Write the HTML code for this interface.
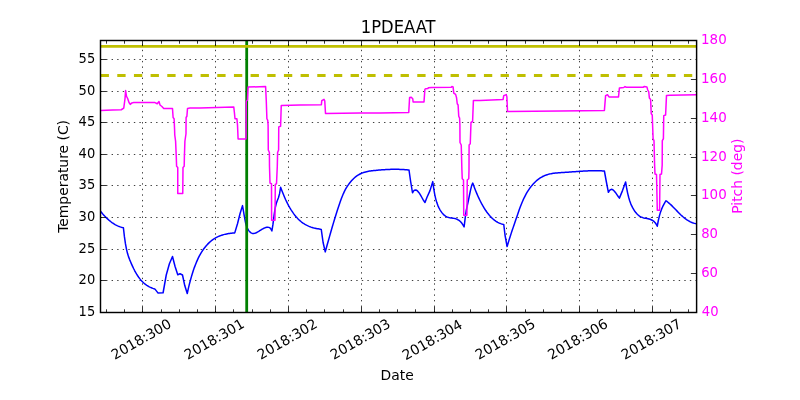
<!DOCTYPE html>
<html lang="en"><head><meta charset="utf-8"><title>1PDEAAT</title>
<style>html,body{margin:0;padding:0;background:#fff;}body{width:800px;height:400px;overflow:hidden;}svg{display:block;will-change:transform;}text{font-family:"DejaVu Sans", "Liberation Sans", sans-serif;}</style></head><body>
<svg width="800" height="400" viewBox="0 0 800 400">
<rect x="0" y="0" width="800" height="400" fill="#fff"/>
<g stroke="#000" stroke-width="0.75" stroke-dasharray="1.39 4.17" fill="none">
<line x1="142.50" y1="312.50" x2="142.50" y2="40.50"/>
<line x1="215.50" y1="312.50" x2="215.50" y2="40.50"/>
<line x1="288.50" y1="312.50" x2="288.50" y2="40.50"/>
<line x1="361.50" y1="312.50" x2="361.50" y2="40.50"/>
<line x1="434.50" y1="312.50" x2="434.50" y2="40.50"/>
<line x1="506.50" y1="312.50" x2="506.50" y2="40.50"/>
<line x1="579.50" y1="312.50" x2="579.50" y2="40.50"/>
<line x1="652.50" y1="312.50" x2="652.50" y2="40.50"/>
<line x1="100.50" y1="280.50" x2="696.50" y2="280.50"/>
<line x1="100.50" y1="249.50" x2="696.50" y2="249.50"/>
<line x1="100.50" y1="217.50" x2="696.50" y2="217.50"/>
<line x1="100.50" y1="185.50" x2="696.50" y2="185.50"/>
<line x1="100.50" y1="154.50" x2="696.50" y2="154.50"/>
<line x1="100.50" y1="122.50" x2="696.50" y2="122.50"/>
<line x1="100.50" y1="91.50" x2="696.50" y2="91.50"/>
<line x1="100.50" y1="59.50" x2="696.50" y2="59.50"/>
</g>
<path d="M100.50,211.20 L101.54,212.49 L102.58,213.73 L103.62,214.91 L104.66,216.05 L105.70,217.13 L106.75,218.16 L107.79,219.13 L108.83,220.06 L109.87,220.93 L110.91,221.75 L111.95,222.53 L112.99,223.25 L114.03,223.92 L115.07,224.54 L116.11,225.11 L117.15,225.64 L118.20,226.11 L119.24,226.54 L120.28,226.91 L121.32,227.24 L122.36,227.52 L123.40,227.75 L124.42,236.64 L125.44,243.65 L126.46,249.10 L127.48,253.32 L128.50,256.63 L129.52,259.36 L130.54,261.82 L131.55,264.16 L132.57,266.40 L133.59,268.52 L134.61,270.52 L135.63,272.39 L136.65,274.15 L137.67,275.77 L138.69,277.26 L139.71,278.63 L140.73,279.88 L141.75,281.03 L142.77,282.07 L143.79,283.01 L144.81,283.87 L145.83,284.64 L146.85,285.34 L147.86,285.98 L148.88,286.55 L149.90,287.07 L150.92,287.54 L151.94,287.97 L152.96,288.37 L153.98,288.74 L155.00,289.10 L158.10,293.10 L163.10,292.75 L166.25,275.00 L169.40,263.75 L172.50,256.50 L175.00,266.25 L177.75,274.75 L180.00,273.75 L182.50,275.00 L184.75,285.60 L187.25,293.50 L188.26,288.94 L189.27,284.69 L190.28,280.75 L191.29,277.08 L192.30,273.68 L193.31,270.53 L194.32,267.62 L195.34,264.91 L196.35,262.41 L197.36,260.09 L198.37,257.94 L199.38,255.94 L200.39,254.09 L201.40,252.37 L202.41,250.78 L203.42,249.30 L204.43,247.94 L205.44,246.67 L206.45,245.49 L207.46,244.40 L208.47,243.37 L209.48,242.42 L210.49,241.53 L211.51,240.70 L212.52,239.92 L213.53,239.21 L214.54,238.55 L215.55,237.94 L216.56,237.38 L217.57,236.87 L218.58,236.40 L219.59,235.98 L220.60,235.59 L221.61,235.24 L222.62,234.93 L223.63,234.64 L224.64,234.39 L225.65,234.16 L226.66,233.96 L227.68,233.77 L228.69,233.61 L229.70,233.47 L230.71,233.33 L231.72,233.21 L232.73,233.10 L233.74,233.00 L234.75,232.90 L237.50,223.75 L240.00,213.75 L242.50,205.60 L243.51,211.34 L244.53,217.47 L245.54,222.68 L246.56,226.28 L247.57,228.69 L248.58,230.38 L249.60,231.65 L250.61,232.55 L251.62,233.13 L252.64,233.41 L253.65,233.45 L254.67,233.28 L255.68,232.95 L256.69,232.50 L257.71,231.96 L258.72,231.36 L259.73,230.72 L260.75,230.07 L261.76,229.44 L262.78,228.83 L263.79,228.29 L264.80,227.84 L265.82,227.50 L266.83,227.29 L267.84,227.24 L268.86,227.38 L269.87,227.84 L270.89,228.94 L271.90,231.00 L272.99,224.21 L274.07,215.43 L275.16,208.20 L276.25,203.47 L277.34,200.47 L278.43,197.80 L279.51,193.91 L280.60,187.25 L281.62,189.99 L282.63,192.60 L283.65,195.09 L284.67,197.46 L285.68,199.71 L286.70,201.84 L287.71,203.86 L288.73,205.78 L289.75,207.59 L290.76,209.29 L291.78,210.90 L292.80,212.42 L293.81,213.84 L294.83,215.17 L295.84,216.42 L296.86,217.58 L297.88,218.67 L298.89,219.68 L299.91,220.62 L300.93,221.49 L301.94,222.29 L302.96,223.03 L303.97,223.71 L304.99,224.34 L306.01,224.91 L307.02,225.43 L308.04,225.91 L309.06,226.35 L310.07,226.74 L311.09,227.10 L312.10,227.42 L313.12,227.72 L314.14,227.99 L315.15,228.23 L316.17,228.46 L317.19,228.67 L318.20,228.86 L319.22,229.05 L320.23,229.23 L321.25,229.40 L323.10,242.50 L325.25,251.90 L326.26,248.22 L327.27,244.56 L328.28,240.93 L329.29,237.34 L330.30,233.78 L331.30,230.27 L332.31,226.80 L333.32,223.39 L334.33,220.03 L335.34,216.73 L336.35,213.49 L337.36,210.32 L338.37,207.22 L339.38,204.21 L340.39,201.32 L341.39,198.57 L342.40,195.98 L343.41,193.58 L344.42,191.40 L345.43,189.44 L346.44,187.67 L347.45,186.06 L348.46,184.59 L349.47,183.22 L350.48,181.96 L351.48,180.78 L352.49,179.70 L353.50,178.70 L354.51,177.78 L355.52,176.94 L356.53,176.17 L357.54,175.47 L358.55,174.84 L359.56,174.27 L360.57,173.75 L361.58,173.30 L362.58,172.89 L363.59,172.52 L364.60,172.21 L365.61,171.92 L366.62,171.68 L367.63,171.46 L368.64,171.27 L369.65,171.11 L370.66,170.96 L371.67,170.83 L372.67,170.71 L373.68,170.60 L374.69,170.49 L375.70,170.39 L376.71,170.29 L377.72,170.19 L378.73,170.10 L379.74,170.01 L380.75,169.93 L381.76,169.85 L382.77,169.78 L383.77,169.71 L384.78,169.64 L385.79,169.58 L386.80,169.53 L387.81,169.48 L388.82,169.44 L389.83,169.40 L390.84,169.37 L391.85,169.35 L392.86,169.33 L393.86,169.32 L394.87,169.31 L395.88,169.31 L396.89,169.32 L397.90,169.33 L398.91,169.36 L399.92,169.38 L400.93,169.42 L401.94,169.47 L402.95,169.52 L403.95,169.58 L404.96,169.65 L405.97,169.72 L406.98,169.81 L407.99,169.90 L409.00,170.00 L410.60,181.25 L412.50,192.75 L413.54,191.05 L414.58,190.15 L415.62,189.93 L416.67,190.30 L417.71,191.16 L418.75,192.41 L419.79,193.95 L420.83,195.68 L421.88,197.50 L422.92,199.31 L423.96,201.01 L425.00,202.50 L426.90,197.50 L430.00,190.60 L432.75,181.60 L433.76,188.84 L434.77,194.59 L435.78,199.10 L436.80,202.60 L437.81,205.35 L438.82,207.59 L439.83,209.52 L440.84,211.19 L441.85,212.63 L442.86,213.84 L443.87,214.85 L444.89,215.68 L445.90,216.35 L446.91,216.87 L447.92,217.27 L448.93,217.57 L449.94,217.78 L450.95,217.95 L451.96,218.09 L452.98,218.22 L453.99,218.38 L455.00,218.59 L456.01,218.88 L457.02,219.26 L458.03,219.77 L459.04,220.43 L460.05,221.27 L461.07,222.31 L462.08,223.58 L463.09,225.10 L464.10,226.90 L465.18,218.17 L466.26,210.43 L467.34,205.35 L468.43,200.38 L469.51,194.98 L470.59,189.85 L471.67,185.66 L472.75,183.10 L473.75,185.84 L474.75,188.48 L475.75,191.00 L476.75,193.41 L477.75,195.71 L478.75,197.91 L479.75,200.01 L480.75,202.01 L481.75,203.91 L482.75,205.71 L483.75,207.41 L484.75,209.02 L485.75,210.54 L486.75,211.97 L487.75,213.31 L488.75,214.57 L489.75,215.74 L490.75,216.83 L491.75,217.84 L492.75,218.77 L493.75,219.63 L494.75,220.41 L495.75,221.12 L496.75,221.76 L497.75,222.32 L498.75,222.83 L499.75,223.26 L500.75,223.64 L501.75,223.95 L502.75,224.20 L503.75,224.40 L505.00,235.00 L507.10,246.60 L508.10,243.17 L509.11,239.87 L510.11,236.69 L511.11,233.61 L512.12,230.59 L513.12,227.63 L514.12,224.70 L515.12,221.78 L516.13,218.86 L517.13,215.93 L518.13,212.99 L519.14,210.07 L520.14,207.28 L521.14,204.67 L522.15,202.22 L523.15,199.94 L524.15,197.80 L525.16,195.80 L526.16,193.95 L527.16,192.21 L528.16,190.60 L529.17,189.10 L530.17,187.69 L531.17,186.39 L532.18,185.17 L533.18,184.03 L534.18,182.96 L535.19,181.97 L536.19,181.04 L537.19,180.19 L538.20,179.39 L539.20,178.66 L540.20,177.98 L541.21,177.36 L542.21,176.79 L543.21,176.28 L544.21,175.81 L545.22,175.39 L546.22,175.01 L547.22,174.67 L548.23,174.36 L549.23,174.10 L550.23,173.86 L551.24,173.65 L552.24,173.47 L553.24,173.32 L554.25,173.18 L555.25,173.07 L556.25,172.97 L557.25,172.88 L558.26,172.81 L559.26,172.74 L560.26,172.68 L561.27,172.62 L562.27,172.56 L563.27,172.50 L564.28,172.44 L565.28,172.37 L566.28,172.31 L567.29,172.24 L568.29,172.17 L569.29,172.10 L570.29,172.02 L571.30,171.95 L572.30,171.87 L573.30,171.80 L574.31,171.73 L575.31,171.65 L576.31,171.58 L577.32,171.51 L578.32,171.44 L579.32,171.37 L580.33,171.30 L581.33,171.24 L582.33,171.17 L583.34,171.11 L584.34,171.06 L585.34,171.00 L586.34,170.95 L587.35,170.91 L588.35,170.86 L589.35,170.83 L590.36,170.80 L591.36,170.77 L592.36,170.75 L593.37,170.73 L594.37,170.72 L595.37,170.71 L596.38,170.72 L597.38,170.72 L598.38,170.74 L599.38,170.76 L600.39,170.79 L601.39,170.83 L602.39,170.88 L603.40,170.94 L604.40,171.00 L606.25,181.25 L608.40,192.30 L609.40,190.63 L610.40,189.68 L611.40,189.35 L612.40,189.56 L613.40,190.20 L614.40,191.20 L615.40,192.44 L616.40,193.85 L617.40,195.33 L618.40,196.77 L619.40,198.10 L622.50,190.60 L625.60,181.90 L626.62,187.98 L627.64,193.06 L628.66,197.28 L629.68,200.75 L630.70,203.60 L631.73,205.96 L632.75,207.95 L633.77,209.69 L634.79,211.23 L635.81,212.58 L636.83,213.75 L637.85,214.76 L638.87,215.61 L639.89,216.31 L640.91,216.87 L641.94,217.31 L642.96,217.66 L643.98,217.93 L645.00,218.16 L646.02,218.36 L647.04,218.55 L648.06,218.76 L649.08,219.00 L650.10,219.31 L651.12,219.71 L652.15,220.21 L653.17,220.84 L654.19,221.66 L655.21,222.76 L656.23,224.26 L657.25,226.25 L658.33,220.51 L659.41,215.87 L660.49,212.15 L661.58,209.16 L662.66,206.71 L663.74,204.62 L664.82,202.69 L665.90,200.75 L666.92,201.45 L667.94,202.23 L668.96,203.07 L669.98,203.96 L671.00,204.91 L672.02,205.89 L673.04,206.91 L674.06,207.95 L675.08,209.00 L676.10,210.07 L677.12,211.13 L678.14,212.18 L679.16,213.22 L680.18,214.23 L681.20,215.21 L682.22,216.14 L683.24,217.03 L684.26,217.87 L685.28,218.65 L686.30,219.39 L687.32,220.08 L688.34,220.71 L689.36,221.29 L690.38,221.82 L691.40,222.29 L692.42,222.70 L693.44,223.06 L694.46,223.37 L695.48,223.61 L696.50,223.80" fill="none" stroke="#0000ff" stroke-width="1.5" stroke-linejoin="round"/>
<line x1="246.7" y1="40.5" x2="246.7" y2="312.5" stroke="#008000" stroke-width="2.8"/>
<line x1="100.5" y1="46.4" x2="696.5" y2="46.4" stroke="#bfbf00" stroke-width="2.8"/>
<line x1="100.6" y1="75.5" x2="696.5" y2="75.5" stroke="#bfbf00" stroke-width="2.8" stroke-dasharray="8.333 8.333"/>
<polyline points="100.50,110.40 112.50,110.00 121.25,109.75 123.75,108.10 125.00,98.75 125.60,90.60 126.50,96.25 127.75,98.75 129.00,102.50 130.25,104.40 131.90,102.90 133.75,102.60 155.00,102.60 157.25,103.75 159.00,101.50 160.00,105.00 161.90,106.50 163.75,108.50 172.50,108.50 173.10,117.50 174.10,118.75 174.60,130.00 174.75,135.00 175.60,141.25 176.25,156.25 176.60,166.25 177.75,167.50 177.75,193.50 182.75,193.50 183.00,167.50 184.20,166.25 184.40,156.25 184.90,141.25 186.00,133.75 186.10,117.50 186.90,116.25 187.50,108.50 190.00,108.10 200.00,107.90 233.75,106.90 234.40,112.50 235.00,118.75 236.90,118.75 237.50,125.00 238.10,139.00 246.00,139.00 246.25,101.25 247.50,100.00 248.10,87.10 265.60,86.60 266.25,100.00 266.90,118.75 267.75,120.40 268.10,125.00 268.30,150.00 269.40,152.50 269.50,166.25 270.00,183.10 271.50,183.75 271.60,220.25 275.00,220.25 275.30,184.40 276.50,183.75 277.30,166.25 277.60,152.50 278.60,150.00 278.75,126.90 280.60,126.25 281.25,105.60 300.00,105.10 321.40,104.65 321.75,100.75 324.00,99.40 324.75,100.75 325.50,113.50 360.00,113.10 380.00,112.90 408.75,112.50 409.60,97.50 411.25,97.25 412.75,98.75 413.10,101.90 424.00,101.90 424.90,89.30 425.60,88.70 427.90,88.50 428.40,87.70 431.70,87.40 451.25,87.25 451.90,86.50 453.10,86.90 453.75,93.10 455.60,94.40 456.50,97.50 457.25,103.75 458.10,105.00 458.75,116.25 459.60,118.10 459.90,125.00 460.00,142.50 461.25,145.00 461.90,170.00 462.25,178.75 463.50,180.00 463.75,215.25 466.90,215.25 467.25,180.00 468.75,178.75 469.00,170.00 469.10,145.00 470.25,143.75 471.00,122.50 472.60,121.50 473.40,100.60 480.00,100.40 503.10,99.40 503.75,95.60 506.25,94.60 506.90,96.90 507.50,111.50 560.00,111.00 604.40,110.40 605.60,95.60 607.50,94.75 609.00,96.90 618.50,96.90 619.40,88.10 623.75,87.50 625.00,86.60 626.25,87.25 643.10,87.25 644.40,86.50 646.90,86.90 647.75,90.00 648.75,91.90 649.40,98.10 650.60,99.40 651.25,113.75 652.25,115.00 652.60,125.00 653.10,138.75 654.00,140.60 654.60,165.00 655.00,174.00 656.50,174.50 657.30,210.20 659.60,210.20 660.00,174.50 661.50,174.00 662.20,165.00 662.30,140.60 663.40,138.75 663.60,125.00 663.75,115.60 665.60,115.00 666.50,95.40 670.00,95.20 696.50,94.80" fill="none" stroke="#ff00ff" stroke-width="1.5" stroke-linejoin="round"/>
<g stroke="#000" stroke-width="0.8" fill="none">
<line x1="142.50" y1="312.5" x2="142.50" y2="306.90"/>
<line x1="142.50" y1="40.5" x2="142.50" y2="46.10"/>
<line x1="215.50" y1="312.5" x2="215.50" y2="306.90"/>
<line x1="215.50" y1="40.5" x2="215.50" y2="46.10"/>
<line x1="288.50" y1="312.5" x2="288.50" y2="306.90"/>
<line x1="288.50" y1="40.5" x2="288.50" y2="46.10"/>
<line x1="361.50" y1="312.5" x2="361.50" y2="306.90"/>
<line x1="361.50" y1="40.5" x2="361.50" y2="46.10"/>
<line x1="434.50" y1="312.5" x2="434.50" y2="306.90"/>
<line x1="434.50" y1="40.5" x2="434.50" y2="46.10"/>
<line x1="506.50" y1="312.5" x2="506.50" y2="306.90"/>
<line x1="506.50" y1="40.5" x2="506.50" y2="46.10"/>
<line x1="579.50" y1="312.5" x2="579.50" y2="306.90"/>
<line x1="579.50" y1="40.5" x2="579.50" y2="46.10"/>
<line x1="652.50" y1="312.5" x2="652.50" y2="306.90"/>
<line x1="652.50" y1="40.5" x2="652.50" y2="46.10"/>
<line x1="106.50" y1="312.5" x2="106.50" y2="309.30"/>
<line x1="106.50" y1="40.5" x2="106.50" y2="43.70"/>
<line x1="124.50" y1="312.5" x2="124.50" y2="309.30"/>
<line x1="124.50" y1="40.5" x2="124.50" y2="43.70"/>
<line x1="161.50" y1="312.5" x2="161.50" y2="309.30"/>
<line x1="161.50" y1="40.5" x2="161.50" y2="43.70"/>
<line x1="179.50" y1="312.5" x2="179.50" y2="309.30"/>
<line x1="179.50" y1="40.5" x2="179.50" y2="43.70"/>
<line x1="197.50" y1="312.5" x2="197.50" y2="309.30"/>
<line x1="197.50" y1="40.5" x2="197.50" y2="43.70"/>
<line x1="233.50" y1="312.5" x2="233.50" y2="309.30"/>
<line x1="233.50" y1="40.5" x2="233.50" y2="43.70"/>
<line x1="252.50" y1="312.5" x2="252.50" y2="309.30"/>
<line x1="252.50" y1="40.5" x2="252.50" y2="43.70"/>
<line x1="270.50" y1="312.5" x2="270.50" y2="309.30"/>
<line x1="270.50" y1="40.5" x2="270.50" y2="43.70"/>
<line x1="306.50" y1="312.5" x2="306.50" y2="309.30"/>
<line x1="306.50" y1="40.5" x2="306.50" y2="43.70"/>
<line x1="324.50" y1="312.5" x2="324.50" y2="309.30"/>
<line x1="324.50" y1="40.5" x2="324.50" y2="43.70"/>
<line x1="343.50" y1="312.5" x2="343.50" y2="309.30"/>
<line x1="343.50" y1="40.5" x2="343.50" y2="43.70"/>
<line x1="379.50" y1="312.5" x2="379.50" y2="309.30"/>
<line x1="379.50" y1="40.5" x2="379.50" y2="43.70"/>
<line x1="397.50" y1="312.5" x2="397.50" y2="309.30"/>
<line x1="397.50" y1="40.5" x2="397.50" y2="43.70"/>
<line x1="415.50" y1="312.5" x2="415.50" y2="309.30"/>
<line x1="415.50" y1="40.5" x2="415.50" y2="43.70"/>
<line x1="452.50" y1="312.5" x2="452.50" y2="309.30"/>
<line x1="452.50" y1="40.5" x2="452.50" y2="43.70"/>
<line x1="470.50" y1="312.5" x2="470.50" y2="309.30"/>
<line x1="470.50" y1="40.5" x2="470.50" y2="43.70"/>
<line x1="488.50" y1="312.5" x2="488.50" y2="309.30"/>
<line x1="488.50" y1="40.5" x2="488.50" y2="43.70"/>
<line x1="525.50" y1="312.5" x2="525.50" y2="309.30"/>
<line x1="525.50" y1="40.5" x2="525.50" y2="43.70"/>
<line x1="543.50" y1="312.5" x2="543.50" y2="309.30"/>
<line x1="543.50" y1="40.5" x2="543.50" y2="43.70"/>
<line x1="561.50" y1="312.5" x2="561.50" y2="309.30"/>
<line x1="561.50" y1="40.5" x2="561.50" y2="43.70"/>
<line x1="597.50" y1="312.5" x2="597.50" y2="309.30"/>
<line x1="597.50" y1="40.5" x2="597.50" y2="43.70"/>
<line x1="616.50" y1="312.5" x2="616.50" y2="309.30"/>
<line x1="616.50" y1="40.5" x2="616.50" y2="43.70"/>
<line x1="634.50" y1="312.5" x2="634.50" y2="309.30"/>
<line x1="634.50" y1="40.5" x2="634.50" y2="43.70"/>
<line x1="670.50" y1="312.5" x2="670.50" y2="309.30"/>
<line x1="670.50" y1="40.5" x2="670.50" y2="43.70"/>
<line x1="688.50" y1="312.5" x2="688.50" y2="309.30"/>
<line x1="688.50" y1="40.5" x2="688.50" y2="43.70"/>
<line x1="100.5" y1="312.50" x2="106.10" y2="312.50"/>
<line x1="100.5" y1="280.50" x2="106.10" y2="280.50"/>
<line x1="100.5" y1="249.50" x2="106.10" y2="249.50"/>
<line x1="100.5" y1="217.50" x2="106.10" y2="217.50"/>
<line x1="100.5" y1="185.50" x2="106.10" y2="185.50"/>
<line x1="100.5" y1="154.50" x2="106.10" y2="154.50"/>
<line x1="100.5" y1="122.50" x2="106.10" y2="122.50"/>
<line x1="100.5" y1="91.50" x2="106.10" y2="91.50"/>
<line x1="100.5" y1="59.50" x2="106.10" y2="59.50"/>
<line x1="696.5" y1="312.50" x2="690.90" y2="312.50"/>
<line x1="696.5" y1="273.50" x2="690.90" y2="273.50"/>
<line x1="696.5" y1="234.50" x2="690.90" y2="234.50"/>
<line x1="696.5" y1="195.50" x2="690.90" y2="195.50"/>
<line x1="696.5" y1="157.50" x2="690.90" y2="157.50"/>
<line x1="696.5" y1="118.50" x2="690.90" y2="118.50"/>
<line x1="696.5" y1="79.50" x2="690.90" y2="79.50"/>
<line x1="696.5" y1="40.50" x2="690.90" y2="40.50"/>
</g>
<rect x="100.5" y="40.5" width="596.10" height="272.00" fill="none" stroke="#000" stroke-width="1.45"/>
<g font-size="13.89px" fill="#000">
<text transform="translate(95.2,316) scale(0.94,1)" x="0" y="0" text-anchor="end">15</text>
<text transform="translate(95.2,284) scale(0.94,1)" x="0" y="0" text-anchor="end">20</text>
<text transform="translate(95.2,253) scale(0.94,1)" x="0" y="0" text-anchor="end">25</text>
<text transform="translate(95.2,221) scale(0.94,1)" x="0" y="0" text-anchor="end">30</text>
<text transform="translate(95.2,189) scale(0.94,1)" x="0" y="0" text-anchor="end">35</text>
<text transform="translate(95.2,158) scale(0.94,1)" x="0" y="0" text-anchor="end">40</text>
<text transform="translate(95.2,126) scale(0.94,1)" x="0" y="0" text-anchor="end">45</text>
<text transform="translate(95.2,95) scale(0.94,1)" x="0" y="0" text-anchor="end">50</text>
<text transform="translate(95.2,63) scale(0.94,1)" x="0" y="0" text-anchor="end">55</text>
<text transform="translate(141.00,338.90) rotate(-30)" x="0" y="5.06" text-anchor="middle">2018:300</text>
<text transform="translate(214.00,338.90) rotate(-30)" x="0" y="5.06" text-anchor="middle">2018:301</text>
<text transform="translate(287.00,338.90) rotate(-30)" x="0" y="5.06" text-anchor="middle">2018:302</text>
<text transform="translate(360.00,338.90) rotate(-30)" x="0" y="5.06" text-anchor="middle">2018:303</text>
<text transform="translate(432.10,339.50) rotate(-30)" x="0" y="5.06" text-anchor="middle">2018:304</text>
<text transform="translate(505.00,338.90) rotate(-30)" x="0" y="5.06" text-anchor="middle">2018:305</text>
<text transform="translate(577.50,338.90) rotate(-30)" x="0" y="5.06" text-anchor="middle">2018:306</text>
<text transform="translate(651.00,338.90) rotate(-30)" x="0" y="5.06" text-anchor="middle">2018:307</text>
<text x="397.2" y="380" text-anchor="middle">Date</text>
<text transform="translate(68,176.4) rotate(-90)" x="0" y="0" text-anchor="middle">Temperature (C)</text>
</g>
<g font-size="13.89px" fill="#ff00ff">
<text transform="translate(701.8,316) scale(0.95,1)" x="0" y="0" text-anchor="start">40</text>
<text transform="translate(701.2,277) scale(0.95,1)" x="0" y="0" text-anchor="start">60</text>
<text transform="translate(701.2,238) scale(0.95,1)" x="0" y="0" text-anchor="start">80</text>
<text transform="translate(701.0,199) scale(0.97,1)" x="0" y="0" text-anchor="start">100</text>
<text transform="translate(701.0,161) scale(0.97,1)" x="0" y="0" text-anchor="start">120</text>
<text transform="translate(701.0,122) scale(0.97,1)" x="0" y="0" text-anchor="start">140</text>
<text transform="translate(701.0,83) scale(0.97,1)" x="0" y="0" text-anchor="start">160</text>
<text transform="translate(701.0,44) scale(0.97,1)" x="0" y="0" text-anchor="start">180</text>
<text transform="translate(742,176.2) rotate(-90)" x="0" y="0" text-anchor="middle">Pitch (deg)</text>
</g>
<text transform="translate(398.2,33) scale(0.925,1)" x="0" y="0" font-size="17.7px" text-anchor="middle" fill="#000">1PDEAAT</text>
</svg></body></html>
